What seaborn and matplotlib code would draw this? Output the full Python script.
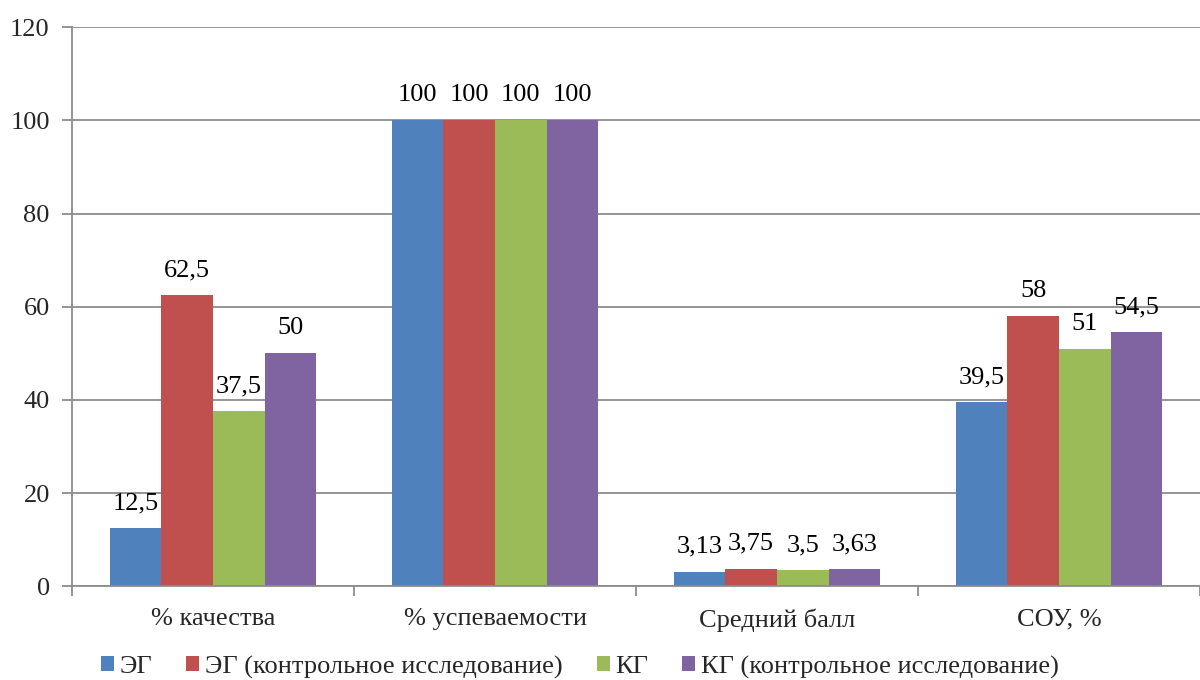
import matplotlib
matplotlib.use("Agg")
import matplotlib.pyplot as plt
import seaborn as sns
import pandas as pd
import numpy as np

categories = ["% качества", "% успеваемости", "Средний балл", "СОУ, %"]
series = ["ЭГ", "ЭГ (контрольное исследование)", "КГ", "КГ (контрольное исследование)"]
eg = [12.5, 100, 3.13, 39.5]
eg_control = [62.5, 100, 3.75, 58]
kg = [37.5, 100, 3.5, 51]
kg_control = [50, 100, 3.63, 54.5]
colors = ["#4F81BD", "#C0504D", "#9BBB59", "#8064A2"]

rows = []
for name, vals in zip(series, [eg, eg_control, kg, kg_control]):
    for cat, v in zip(categories, vals):
        rows.append({"category": cat, "series": name, "value": v})
df = pd.DataFrame(rows)

sns.set_style("white")
plt.rcParams["font.family"] = ["Liberation Serif", "DejaVu Serif"]

FS = 19

fig = plt.figure(figsize=(12, 6.8), dpi=100)
ax = fig.add_axes([0.06, 0.138, 0.94, 0.822])

sns.barplot(data=df, x="category", y="value", hue="series", order=categories,
            hue_order=series, palette=colors, width=0.734, saturation=1,
            edgecolor="none", ax=ax)

def fmt(v):
    s = f"{v:g}"
    return s.replace(".", ",")

for cont, vals in zip(ax.containers, [eg, eg_control, kg, kg_control]):
    ax.bar_label(cont, labels=[fmt(v) for v in vals], padding=10, fontsize=FS, color="black")

ax.set_ylim(0, 120)
ax.set_yticks(np.arange(0, 121, 20))
ax.set_xlim(-0.5, len(categories) - 0.5)
ax.set_xlabel("")
ax.set_ylabel("")

grid_color = "#8C8C8C"
ax.yaxis.grid(True, color=grid_color, linewidth=1.3)
ax.set_axisbelow(True)
for side in ["top", "right"]:
    ax.spines[side].set_visible(False)
for side in ["left", "bottom"]:
    ax.spines[side].set_color(grid_color)
    ax.spines[side].set_linewidth(1.3)

ax.tick_params(axis="y", length=7, width=1.3, color=grid_color, labelsize=FS, pad=9, left=True)
ax.tick_params(axis="x", which="major", length=0, labelsize=FS, pad=16)
ax.set_xticks(np.arange(-0.5, len(categories) + 0.5, 1), minor=True)
ax.tick_params(axis="x", which="minor", length=7, width=1.3, color=grid_color, bottom=True)

ax.legend(loc="center", bbox_to_anchor=(0.483, 0.019), bbox_transform=fig.transFigure,
          ncol=4, frameon=False, fontsize=FS, handlelength=0.5, handleheight=0.5,
          handletextpad=0.2, columnspacing=1.3, borderpad=0)

fig.savefig("out.png", dpi=100)
